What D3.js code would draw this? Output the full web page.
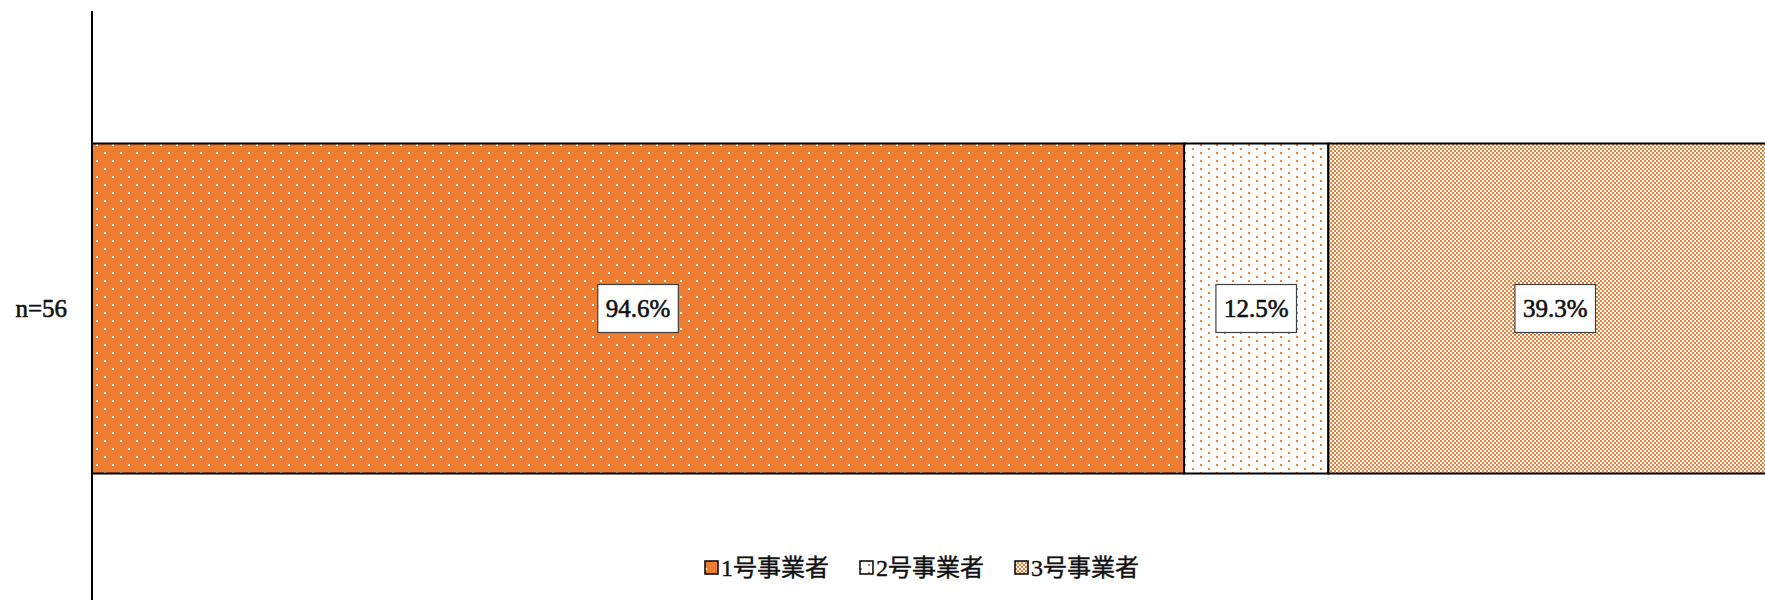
<!DOCTYPE html>
<html><head><meta charset="utf-8">
<script src="https://cdn.jsdelivr.net/npm/d3@7"></script>
<style>body{margin:0;background:#fff}svg{display:block}</style>
</head><body>
<script>
const categories = ["n=56"];
const seriesNames = ["1号事業者", "2号事業者", "3号事業者"];
const seriesValues = [94.6, 12.5, 39.3];
const valueLabels = ["94.6%", "12.5%", "39.3%"];

const W = 1765, H = 600;
const svg = d3.select("body").append("svg").attr("width", W).attr("height", H);
const defs = svg.append("defs");
const ORANGE = "#ED7D31";

// patterns
const p1 = defs.append("pattern").attr("id","p0").attr("patternUnits","userSpaceOnUse").attr("width",16).attr("height",16);
p1.append("rect").attr("width",16).attr("height",16).attr("fill",ORANGE);
p1.append("rect").attr("x",0).attr("y",0).attr("width",2).attr("height",2).attr("fill","#fff");
p1.append("rect").attr("x",8).attr("y",8).attr("width",2).attr("height",2).attr("fill","#fff");
const p2 = defs.append("pattern").attr("id","p1").attr("patternUnits","userSpaceOnUse").attr("width",16).attr("height",8);
p2.append("rect").attr("width",16).attr("height",8).attr("fill","#fff");
p2.append("rect").attr("x",0).attr("y",0).attr("width",2).attr("height",2).attr("fill",ORANGE);
p2.append("rect").attr("x",8).attr("y",4).attr("width",2).attr("height",2).attr("fill",ORANGE);
const p3 = defs.append("pattern").attr("id","p2").attr("patternUnits","userSpaceOnUse").attr("width",4).attr("height",4);
p3.append("rect").attr("width",4).attr("height",4).attr("fill","#fff");
p3.append("rect").attr("x",0).attr("y",0).attr("width",2).attr("height",2).attr("fill",ORANGE);
p3.append("rect").attr("x",2).attr("y",2).attr("width",2).attr("height",2).attr("fill",ORANGE);

const x = d3.scaleLinear().domain([0, 100]).range([92, 1246.4]);
const y = d3.scaleBand().domain(categories).range([11, 606]).paddingInner(0).paddingOuter(0.4015);

const SERIF = "Liberation Serif, DejaVu Serif, serif";
const CJK = "Noto Sans CJK JP, sans-serif";

let cum = 0;
const stacks = seriesValues.map((v, i) => { const s = {i, x0: cum, x1: cum + v, v, label: valueLabels[i]}; cum += v; return s; });

const g = svg.append("g");
const cat = categories[0];
g.selectAll("rect.bar").data(stacks).join("rect").attr("class","bar")
  .attr("x", d => x(d.x0)).attr("y", y(cat))
  .attr("width", d => x(d.x1) - x(d.x0)).attr("height", y.bandwidth())
  .attr("fill", d => `url(#p${d.i})`).attr("stroke", "#000").attr("stroke-width", 2);

// labels
const lab = g.selectAll("g.lab").data(stacks).join("g").attr("class","lab")
  .attr("transform", d => `translate(${(x(d.x0)+x(d.x1))/2},${y(cat)+y.bandwidth()/2})`);
lab.each(function(d){
  const gg = d3.select(this);
  const t = gg.append("text").attr("text-anchor","middle").attr("dy","0.35em")
    .style("font-family", SERIF).attr("font-size", 25).attr("fill","#111").attr("stroke","#111").attr("stroke-width",0.6).text(d.label);
  const w = t.node().getComputedTextLength();
  gg.insert("rect","text").attr("x", -w/2 - 8).attr("y", -24).attr("width", w + 16).attr("height", 48)
    .attr("fill","#fff").attr("stroke","#404040").attr("stroke-width",1.2);
});

// axis
const yAxis = d3.axisLeft(y).tickSize(0).tickPadding(25);
const ax = svg.append("g").attr("transform","translate(92,0)").call(yAxis);
ax.attr("font-family", null);
ax.select(".domain").attr("stroke","#000").attr("stroke-width",2).attr("d", `M0,11V600`);
ax.selectAll("text").style("font-family", SERIF).attr("font-size", 25).attr("fill","#111").attr("stroke","#111").attr("stroke-width",0.6);

// legend
const leg = svg.append("g");
const items = leg.selectAll("g").data(seriesNames).join("g");
items.append("rect").attr("width",13).attr("height",13).attr("y",-7)
  .attr("fill",(d,i)=>`url(#p${i})`).attr("stroke","#000").attr("stroke-width",1.5);
const lt = items.append("text").attr("x",16).attr("dy","0.35em")
  .attr("font-size",24).attr("fill","#111").attr("stroke","#111").attr("stroke-width",0.4);
lt.append("tspan").style("font-family", SERIF).text(d => d.slice(0,1));
lt.append("tspan").style("font-family", CJK).text(d => d.slice(1));
let off = 0; const offs = [];
items.each(function(){ offs.push(off); off += 16 + d3.select(this).select("text").node().getComputedTextLength() + 31; });
const total = off - 31;
const lx = 922 - total/2;
items.attr("transform",(d,i)=>`translate(${lx+offs[i]},568)`);
</script>
</body></html>
